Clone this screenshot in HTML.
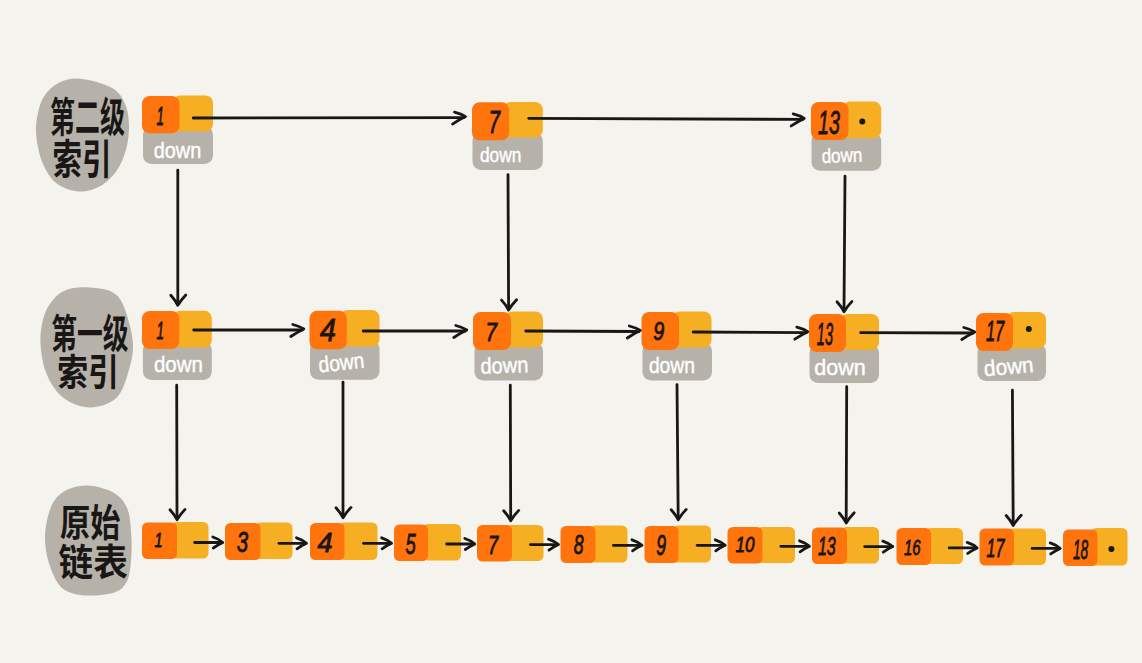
<!DOCTYPE html>
<html lang="zh-CN"><head><meta charset="utf-8"><title>跳表索引</title>
<style>
html,body{margin:0;padding:0;background:#F5F3EE;}
body{width:1142px;height:663px;overflow:hidden;font-family:"Liberation Sans","Noto Sans CJK SC",sans-serif;}
svg{display:block}
.cj{font-family:"Liberation Sans","Noto Sans CJK SC",sans-serif;font-weight:700;fill:#191716;}
.num{font-family:"Liberation Sans",sans-serif;font-style:italic;fill:#191716;stroke:#191716;stroke-width:0.9px;}
.dn{font-family:"Liberation Sans",sans-serif;fill:#fff;stroke:#fff;stroke-width:0.4px;}
</style></head><body>
<svg width="1142" height="663" viewBox="0 0 1142 663">
<rect width="1142" height="663" fill="#F5F3EE"/>
<path d="M80.3,78.8 C89.1,79.6 104.2,83.6 111.7,87.7 C119.1,91.8 122.0,97.2 124.9,103.4 C127.8,109.6 128.8,117.5 129.0,125.1 C129.2,132.8 128.2,141.6 126.1,149.2 C124.0,156.9 120.9,164.7 116.5,171.0 C112.1,177.2 106.0,183.2 99.6,186.6 C93.2,190.0 85.1,192.1 77.9,191.5 C70.7,190.8 62.0,187.6 56.2,183.0 C50.4,178.4 46.2,171.4 42.9,163.7 C39.6,156.1 37.3,145.2 36.4,137.2 C35.5,129.1 36.1,122.3 37.4,115.5 C38.7,108.6 40.6,101.6 44.1,96.2 C47.7,90.8 52.6,85.8 58.6,82.9 C64.6,80.0 71.5,78.0 80.3,78.8 Z" fill="#B6B2AA"/>
<path d="M89.9,287.4 C97.2,287.8 106.0,288.6 111.7,291.7 C117.3,294.8 120.2,297.7 123.7,306.2 C127.3,314.6 132.1,331.5 132.9,342.4 C133.7,353.2 131.3,362.1 128.5,371.3 C125.8,380.5 122.9,391.8 116.5,397.8 C110.0,403.9 98.8,407.5 89.9,407.5 C81.1,407.5 70.7,403.5 63.4,397.8 C56.2,392.2 50.4,383.0 46.5,373.7 C42.7,364.5 40.9,352.0 40.5,342.4 C40.1,332.7 41.9,323.1 44.1,315.8 C46.3,308.6 49.7,303.4 53.8,298.9 C57.8,294.5 62.2,291.2 68.2,289.3 C74.3,287.4 82.7,287.0 89.9,287.4 Z" fill="#B6B2AA"/>
<path d="M89.9,485.7 C97.6,486.3 107.8,489.1 114.1,492.9 C120.3,496.7 124.4,501.2 127.3,508.6 C130.2,516.0 130.9,527.9 131.4,537.5 C132.0,547.2 131.4,558.8 130.5,566.5 C129.5,574.2 128.6,579.4 125.6,583.8 C122.7,588.3 119.6,591.1 112.9,593.0 C106.1,594.9 93.4,596.1 85.1,595.4 C76.8,594.7 68.6,593.1 62.9,588.7 C57.2,584.2 53.8,576.2 50.9,568.9 C47.9,561.6 46.0,552.4 45.3,544.8 C44.6,537.1 45.1,530.3 46.5,523.1 C47.9,515.8 50.1,507.0 53.8,501.4 C57.4,495.7 62.2,491.9 68.2,489.3 C74.3,486.7 82.3,485.1 89.9,485.7 Z" fill="#B6B2AA"/>
<text class="cj" x="50" y="132.1" font-size="41" textLength="75.0" lengthAdjust="spacingAndGlyphs">第二级</text>
<text class="cj" x="52.5" y="174.3" font-size="41" textLength="59.0" lengthAdjust="spacingAndGlyphs">索引</text>
<text class="cj" x="51.2" y="348.2" font-size="40" textLength="77.4" lengthAdjust="spacingAndGlyphs">第一级</text>
<text class="cj" x="57.2" y="385.8" font-size="37" textLength="61.8" lengthAdjust="spacingAndGlyphs">索引</text>
<text class="cj" x="60" y="536.2" font-size="38" textLength="60.5" lengthAdjust="spacingAndGlyphs">原始</text>
<text class="cj" x="58.5" y="576.1" font-size="37" textLength="69.3" lengthAdjust="spacingAndGlyphs">链表</text>
<rect x="143.0" y="126.0" width="70.0" height="38.0" rx="8.5" ry="8.5" fill="#B6B2AA"/>
<rect x="172.8" y="95.4" width="40.2" height="36.2" rx="7.5" ry="7.5" fill="#F6AE23"/>
<rect x="142.0" y="96.0" width="37.5" height="37.3" rx="7.5" ry="7.5" fill="#FF740D"/>
<text class="num" x="156.5" y="125.0" font-size="25.1" textLength="7.5" lengthAdjust="spacingAndGlyphs">1</text>
<text class="dn" x="153.7" y="157.6" font-size="22" textLength="47.5" lengthAdjust="spacingAndGlyphs">down</text>
<rect x="472.5" y="132.5" width="70.3" height="37.5" rx="8.5" ry="8.5" fill="#B6B2AA"/>
<rect x="503.0" y="102.0" width="39.8" height="35.6" rx="7.5" ry="7.5" fill="#F6AE23"/>
<rect x="472.0" y="102.2" width="37.2" height="38.0" rx="7.5" ry="7.5" fill="#FF740D"/>
<text class="num" x="488.5" y="133.4" font-size="31.0" textLength="11.5" lengthAdjust="spacingAndGlyphs">7</text>
<text class="dn" x="479.9" y="162.3" font-size="20" textLength="41.5" lengthAdjust="spacingAndGlyphs">down</text>
<rect x="811.5" y="132.5" width="69.7" height="38.2" rx="8.5" ry="8.5" fill="#B6B2AA"/>
<rect x="842.5" y="101.5" width="38.7" height="36.7" rx="7.5" ry="7.5" fill="#F6AE23"/>
<rect x="811.0" y="102.0" width="37.5" height="38.0" rx="7.5" ry="7.5" fill="#FF740D"/>
<text class="num" x="818.0" y="134.1" font-size="33.9" textLength="21.8" lengthAdjust="spacingAndGlyphs">13</text>
<text class="dn" x="821.7" y="162.3" font-size="20" textLength="40.6" lengthAdjust="spacingAndGlyphs" transform="rotate(-2 842.0 156.3)">down</text>
<rect x="142.9" y="341.2" width="68.9" height="38.8" rx="8.5" ry="8.5" fill="#B6B2AA"/>
<rect x="173.0" y="310.8" width="38.8" height="36.7" rx="7.5" ry="7.5" fill="#F6AE23"/>
<rect x="142.0" y="311.0" width="37.3" height="38.0" rx="7.5" ry="7.5" fill="#FF740D"/>
<text class="num" x="156.5" y="339.0" font-size="24.4" textLength="7.5" lengthAdjust="spacingAndGlyphs">1</text>
<text class="dn" x="153.9" y="371.6" font-size="22" textLength="49.0" lengthAdjust="spacingAndGlyphs">down</text>
<rect x="310.0" y="340.0" width="69.5" height="39.8" rx="8.5" ry="8.5" fill="#B6B2AA"/>
<rect x="340.0" y="310.0" width="39.5" height="36.5" rx="7.5" ry="7.5" fill="#F6AE23"/>
<rect x="309.5" y="310.8" width="37.3" height="38.4" rx="7.5" ry="7.5" fill="#FF740D"/>
<text class="num" x="320.1" y="341.2" font-size="30.9" textLength="15.9" lengthAdjust="spacingAndGlyphs">4</text>
<text class="dn" x="318.5" y="370.2" font-size="22" textLength="46.0" lengthAdjust="spacingAndGlyphs" transform="rotate(-6 341.5 364.2)">down</text>
<rect x="474.5" y="342.5" width="68.5" height="38.0" rx="8.5" ry="8.5" fill="#B6B2AA"/>
<rect x="505.0" y="311.5" width="38.0" height="36.0" rx="7.5" ry="7.5" fill="#F6AE23"/>
<rect x="473.0" y="312.0" width="38.0" height="38.0" rx="7.5" ry="7.5" fill="#FF740D"/>
<text class="num" x="485.4" y="341.3" font-size="25.3" textLength="11.5" lengthAdjust="spacingAndGlyphs">7</text>
<text class="dn" x="480.5" y="373.0" font-size="22" textLength="47.8" lengthAdjust="spacingAndGlyphs" transform="rotate(-2 504.4 367.0)">down</text>
<rect x="642.5" y="342.5" width="69.5" height="38.0" rx="8.5" ry="8.5" fill="#B6B2AA"/>
<rect x="672.0" y="311.5" width="39.5" height="36.0" rx="7.5" ry="7.5" fill="#F6AE23"/>
<rect x="641.5" y="312.0" width="37.5" height="38.0" rx="7.5" ry="7.5" fill="#FF740D"/>
<text class="num" x="653.3" y="340.0" font-size="25.4" textLength="11.0" lengthAdjust="spacingAndGlyphs">9</text>
<text class="dn" x="648.9" y="373.0" font-size="22" textLength="46.1" lengthAdjust="spacingAndGlyphs">down</text>
<rect x="809.5" y="344.5" width="69.5" height="38.5" rx="8.5" ry="8.5" fill="#B6B2AA"/>
<rect x="840.0" y="314.0" width="39.0" height="36.0" rx="7.5" ry="7.5" fill="#F6AE23"/>
<rect x="809.0" y="314.0" width="37.0" height="38.0" rx="7.5" ry="7.5" fill="#FF740D"/>
<text class="num" x="816.8" y="345.0" font-size="32.1" textLength="16.2" lengthAdjust="spacingAndGlyphs">13</text>
<text class="dn" x="814.3" y="374.6" font-size="22" textLength="51.5" lengthAdjust="spacingAndGlyphs">down</text>
<rect x="977.5" y="343.5" width="68.5" height="37.5" rx="8.5" ry="8.5" fill="#B6B2AA"/>
<rect x="1006.5" y="312.0" width="39.5" height="36.5" rx="7.5" ry="7.5" fill="#F6AE23"/>
<rect x="976.0" y="313.0" width="37.0" height="38.0" rx="7.5" ry="7.5" fill="#FF740D"/>
<text class="num" x="985.9" y="341.3" font-size="29.7" textLength="18.4" lengthAdjust="spacingAndGlyphs">17</text>
<text class="dn" x="984.0" y="374.2" font-size="22" textLength="49.7" lengthAdjust="spacingAndGlyphs" transform="rotate(-5 1008.9 368.2)">down</text>
<rect x="170.5" y="522.0" width="38.0" height="36.5" rx="5.5" ry="5.5" fill="#F6AE23"/>
<rect x="142.0" y="522.5" width="35.0" height="36.5" rx="5.5" ry="5.5" fill="#FF740D"/>
<text class="num" x="154.5" y="547.1" font-size="19.9" textLength="8.0" lengthAdjust="spacingAndGlyphs">1</text>
<rect x="254.5" y="522.5" width="38.0" height="36.5" rx="5.5" ry="5.5" fill="#F6AE23"/>
<rect x="225.0" y="523.0" width="35.5" height="37.0" rx="5.5" ry="5.5" fill="#FF740D"/>
<text class="num" x="236.7" y="552.2" font-size="29.0" textLength="11.4" lengthAdjust="spacingAndGlyphs">3</text>
<rect x="338.5" y="522.5" width="39.0" height="37.5" rx="5.5" ry="5.5" fill="#F6AE23"/>
<rect x="310.0" y="523.0" width="34.5" height="37.0" rx="5.5" ry="5.5" fill="#FF740D"/>
<text class="num" x="317.5" y="552.2" font-size="27.1" textLength="15.0" lengthAdjust="spacingAndGlyphs">4</text>
<rect x="422.5" y="524.0" width="38.5" height="36.5" rx="5.5" ry="5.5" fill="#F6AE23"/>
<rect x="394.0" y="524.5" width="34.0" height="36.5" rx="5.5" ry="5.5" fill="#FF740D"/>
<text class="num" x="405.4" y="553.5" font-size="29.0" textLength="10.2" lengthAdjust="spacingAndGlyphs">5</text>
<rect x="505.5" y="525.0" width="38.0" height="36.0" rx="5.5" ry="5.5" fill="#F6AE23"/>
<rect x="477.0" y="525.0" width="35.0" height="36.5" rx="5.5" ry="5.5" fill="#FF740D"/>
<text class="num" x="487.9" y="553.5" font-size="25.4" textLength="10.2" lengthAdjust="spacingAndGlyphs">7</text>
<rect x="589.5" y="525.5" width="38.0" height="37.0" rx="5.5" ry="5.5" fill="#F6AE23"/>
<rect x="560.5" y="526.0" width="35.0" height="37.0" rx="5.5" ry="5.5" fill="#FF740D"/>
<text class="num" x="573.8" y="553.5" font-size="27.3" textLength="9.8" lengthAdjust="spacingAndGlyphs">8</text>
<rect x="672.5" y="525.5" width="38.5" height="37.0" rx="5.5" ry="5.5" fill="#F6AE23"/>
<rect x="644.5" y="526.0" width="34.0" height="37.0" rx="5.5" ry="5.5" fill="#FF740D"/>
<text class="num" x="656.2" y="554.8" font-size="29.1" textLength="9.8" lengthAdjust="spacingAndGlyphs">9</text>
<rect x="756.5" y="527.0" width="38.5" height="36.0" rx="5.5" ry="5.5" fill="#F6AE23"/>
<rect x="727.5" y="527.0" width="35.0" height="36.5" rx="5.5" ry="5.5" fill="#FF740D"/>
<text class="num" x="735.4" y="552.2" font-size="21.7" textLength="19.0" lengthAdjust="spacingAndGlyphs">10</text>
<rect x="840.5" y="527.0" width="38.5" height="36.5" rx="5.5" ry="5.5" fill="#F6AE23"/>
<rect x="812.0" y="527.5" width="35.0" height="36.5" rx="5.5" ry="5.5" fill="#FF740D"/>
<text class="num" x="817.9" y="554.8" font-size="25.4" textLength="17.8" lengthAdjust="spacingAndGlyphs">13</text>
<rect x="925.0" y="528.0" width="38.0" height="36.0" rx="5.5" ry="5.5" fill="#F6AE23"/>
<rect x="896.5" y="528.0" width="34.5" height="37.0" rx="5.5" ry="5.5" fill="#FF740D"/>
<text class="num" x="904.1" y="554.8" font-size="21.9" textLength="16.5" lengthAdjust="spacingAndGlyphs">16</text>
<rect x="1007.5" y="528.5" width="38.5" height="36.5" rx="5.5" ry="5.5" fill="#F6AE23"/>
<rect x="979.5" y="528.5" width="34.5" height="37.0" rx="5.5" ry="5.5" fill="#FF740D"/>
<text class="num" x="986.6" y="557.3" font-size="25.4" textLength="17.8" lengthAdjust="spacingAndGlyphs">17</text>
<rect x="1091.0" y="528.0" width="36.5" height="37.5" rx="5.5" ry="5.5" fill="#F6AE23"/>
<rect x="1063.0" y="529.5" width="34.5" height="36.5" rx="5.5" ry="5.5" fill="#FF740D"/>
<text class="num" x="1072.9" y="558.6" font-size="27.3" textLength="15.3" lengthAdjust="spacingAndGlyphs">18</text>
<g fill="none" stroke="#191716" stroke-width="2.8" stroke-linecap="round" stroke-linejoin="round"><path d="M193.2,118.0 L464.0,117.6"/><path d="M454.5,112.1 Q461.6,113.9 465.5,116.6 Q459.0,119.8 452.5,124.1"/><path d="M528.7,118.3 L802.7,119.4"/><path d="M793.2,113.9 Q800.3,115.7 804.2,118.4 Q797.7,121.6 791.2,125.9"/><path d="M193.7,330.0 L302.3,330.0"/><path d="M292.8,324.5 Q299.9,326.3 303.8,329.0 Q297.3,332.2 290.8,336.5"/><path d="M363.2,331.0 L465.3,331.0"/><path d="M455.8,325.5 Q462.9,327.3 466.8,330.0 Q460.3,333.2 453.8,337.5"/><path d="M525.7,331.0 L638.8,331.5"/><path d="M629.3,326.0 Q636.4,327.8 640.3,330.5 Q633.8,333.7 627.3,338.0"/><path d="M693.2,332.0 L806.3,332.7"/><path d="M796.8,327.2 Q803.9,329.0 807.8,331.7 Q801.3,334.9 794.8,339.2"/><path d="M860.7,332.7 L973.3,333.0"/><path d="M963.8,327.5 Q970.9,329.3 974.8,332.0 Q968.3,335.2 961.8,339.5"/><path d="M194.7,542.5 L221.3,542.5"/><path d="M212.8,537.0 Q219.3,539.2 222.8,542.5 Q218.1,544.7 213.3,548.0"/><path d="M279.0,543.3 L305.0,543.3"/><path d="M296.5,537.8 Q303.0,540.0 306.5,543.3 Q301.8,545.5 297.0,548.8"/><path d="M363.5,543.3 L390.1,543.3"/><path d="M381.6,537.8 Q388.1,540.0 391.6,543.3 Q386.9,545.5 382.1,548.8"/><path d="M446.7,544.0 L473.3,544.0"/><path d="M464.8,538.5 Q471.3,540.7 474.8,544.0 Q470.1,546.2 465.3,549.5"/><path d="M530.4,544.6 L557.0,544.6"/><path d="M548.5,539.1 Q555.0,541.3 558.5,544.6 Q553.8,546.8 549.0,550.1"/><path d="M613.4,545.3 L640.5,545.3"/><path d="M632.0,539.8 Q638.5,542.0 642.0,545.3 Q637.2,547.5 632.5,550.8"/><path d="M697.2,545.3 L723.7,545.3"/><path d="M715.2,539.8 Q721.7,542.0 725.2,545.3 Q720.4,547.5 715.7,550.8"/><path d="M780.9,546.3 L808.0,546.3"/><path d="M799.5,540.8 Q806.0,543.0 809.5,546.3 Q804.8,548.5 800.0,551.8"/><path d="M864.7,546.6 L891.3,546.6"/><path d="M882.8,541.1 Q889.3,543.3 892.8,546.6 Q888.0,548.8 883.3,552.1"/><path d="M949.2,547.9 L975.7,547.9"/><path d="M967.2,542.4 Q973.7,544.6 977.2,547.9 Q972.4,550.1 967.7,553.4"/><path d="M1032.2,548.4 L1058.7,548.4"/><path d="M1050.2,542.9 Q1056.7,545.1 1060.2,548.4 Q1055.5,550.6 1050.7,553.9"/><path d="M177.8,170.2 L177.8,303.8"/><path d="M170.8,295.3 Q175.5,300.5 177.8,305.3 Q180.8,300.3 185.8,295.0"/><path d="M508.0,174.6 L508.6,308.6"/><path d="M501.6,300.1 Q506.3,305.3 508.6,310.1 Q511.6,305.1 516.6,299.8"/><path d="M845.0,176.2 L844.0,310.2"/><path d="M837.0,301.7 Q841.7,306.9 844.0,311.7 Q847.0,306.7 852.0,301.4"/><path d="M176.7,385.2 L177.0,518.2"/><path d="M170.0,509.7 Q174.7,514.9 177.0,519.7 Q180.0,514.7 185.0,509.4"/><path d="M343.0,382.2 L343.0,516.2"/><path d="M336.0,507.7 Q340.7,512.9 343.0,517.7 Q346.0,512.7 351.0,507.4"/><path d="M510.3,385.2 L510.7,519.2"/><path d="M503.7,510.7 Q508.4,515.9 510.7,520.7 Q513.7,515.7 518.7,510.4"/><path d="M677.0,384.6 L678.2,518.2"/><path d="M671.2,509.7 Q675.9,514.9 678.2,519.7 Q681.2,514.7 686.2,509.4"/><path d="M846.7,386.6 L846.2,521.5"/><path d="M839.2,513.0 Q843.9,518.2 846.2,523.0 Q849.2,518.0 854.2,512.7"/><path d="M1012.4,390.2 L1013.2,524.0"/><path d="M1006.2,515.5 Q1010.9,520.7 1013.2,525.5 Q1016.2,520.5 1021.2,515.2"/></g>
<circle cx="862.3" cy="121.4" r="3" fill="#191716"/>
<circle cx="1028.8" cy="329" r="3" fill="#191716"/>
<circle cx="1111.4" cy="548.9" r="3" fill="#191716"/>
</svg>
</body></html>
